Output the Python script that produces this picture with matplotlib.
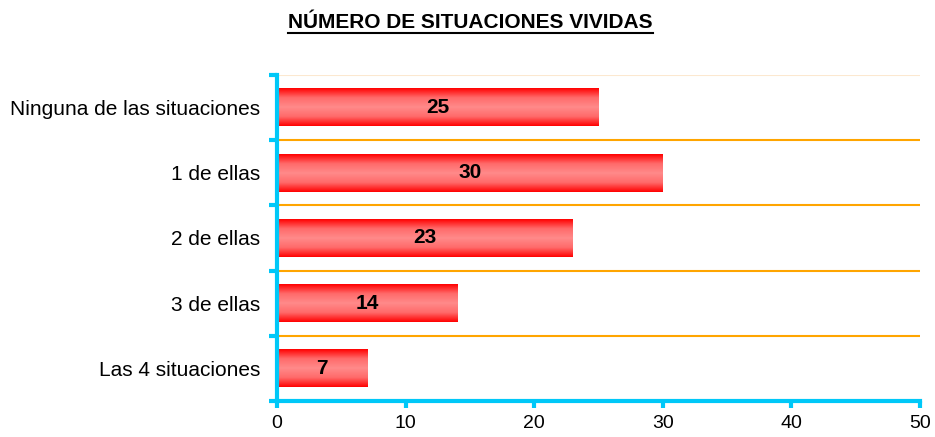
import numpy as np
import matplotlib
matplotlib.use("Agg")
import matplotlib.pyplot as plt
from matplotlib.colors import LinearSegmentedColormap

categories = ["Ninguna de las situaciones", "1 de ellas", "2 de ellas", "3 de ellas", "Las 4 situaciones"]
values = [25, 30, 23, 14, 7]
xticks = [0, 10, 20, 30, 40, 50]
title = "NÚMERO DE SITUACIONES VIVIDAS"

plt.rcParams['font.family'] = ['Liberation Sans', 'DejaVu Sans']

fig = plt.figure(figsize=(9.35, 4.37), dpi=100)
ax = fig.add_axes([0.2963, 0.0824, 0.984 - 0.2963, 0.8284 - 0.0824])

cmap = LinearSegmentedColormap.from_list("bar", ["#FF0000", "#FF6A6A", "#FF8A8A", "#FF6A6A", "#FF0000"])
grad = np.linspace(0, 1, 256).reshape(-1, 1)
n = len(categories)
ypos = np.arange(n)[::-1]
h = 0.58
for y, v in zip(ypos, values):
    ax.imshow(grad, cmap=cmap, aspect='auto', extent=(0, v, y - h / 2, y + h / 2),
              origin='lower', zorder=3, interpolation='bilinear')
    ax.text(v / 2, y, str(v), ha='center', va='center', fontsize=15, fontweight='bold', zorder=4)

ax.set_xlim(0, 50)
ax.set_ylim(-0.5, n - 0.5)
ax.set_xticks(xticks)
ax.set_xticklabels([str(t) for t in xticks], fontsize=14)
ax.set_yticks(ypos)
ax.set_yticklabels(categories, fontsize=15)
ax.tick_params(axis='y', which='major', length=0, pad=12)
ax.set_yticks(np.arange(-0.5, n, 1.0), minor=True)
ax.tick_params(axis='y', which='minor', length=6, width=3, color='#00C8F8')
ax.tick_params(axis='x', which='major', length=5, width=3, color='#00C8F8', pad=5)

for b in np.arange(0.5, n - 1, 1.0):
    ax.axhline(b, color='#FFA500', lw=1.5, zorder=1)
ax.axhline(n - 0.5, color='#FCE8D0', lw=1.5, zorder=1)

for s in ['top', 'right']:
    ax.spines[s].set_visible(False)
for s in ['left', 'bottom']:
    ax.spines[s].set_color('#00C8F8')
    ax.spines[s].set_linewidth(3)
    ax.spines[s].set_zorder(5)

t = fig.text(0.503, 0.948, title, ha='center', va='center', fontsize=15, fontweight='bold')
fig.canvas.draw()
bb = t.get_window_extent()
inv = fig.transFigure.inverted()
(x0, y0), (x1, y1) = inv.transform([(bb.x0, bb.y0), (bb.x1, bb.y0)])
fig.add_artist(plt.Line2D([x0, x1], [y0 - 0.002, y0 - 0.002], color='black', lw=1.5, transform=fig.transFigure))

fig.savefig("out.png", dpi=100)
